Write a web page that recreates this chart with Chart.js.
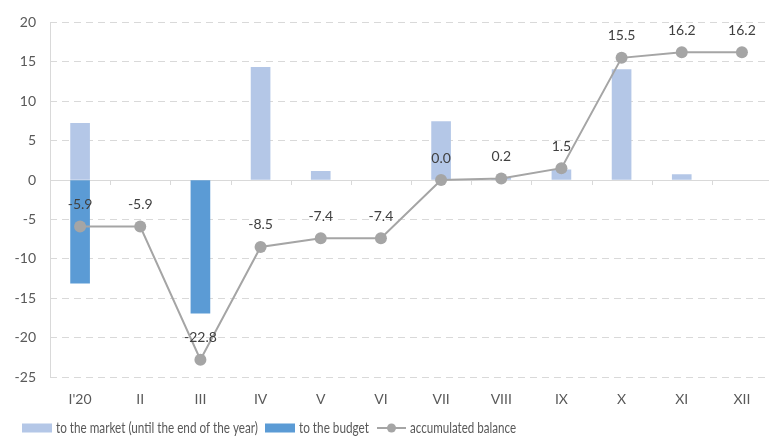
<!DOCTYPE html>
<html><head><meta charset="utf-8">
<script src="https://cdn.jsdelivr.net/npm/chart.js@4/dist/chart.umd.min.js"></script>
<style>
html,body{margin:0;padding:0;overflow:hidden;background:#fff;width:769px;height:436px}
#wrap{position:absolute;left:0;top:0;width:778px;height:436px}
</style></head>
<body><div id="wrap"><canvas id="c"></canvas></div>
<script>
const categories = ["I'20","II","III","IV","V","VI","VII","VIII","IX","X","XI","XII"];
const toMarket = [7.2, null, null, 14.3, 1.1, null, 7.4, 0.2, 1.3, 14.0, 0.7, null];
const toBudget = [-13.1, null, -16.9, null, null, null, null, null, null, null, null, null];
const accumulated = [-5.9, -5.9, -22.8, -8.5, -7.4, -7.4, 0.0, 0.2, 1.5, 15.5, 16.2, 16.2];
const yMin = -25, yMax = 20, yStep = 5;
const seriesNames = ["to the market (until the end of the year)", "to the budget", "accumulated balance"];

const FONT = "Lato, 'Open Sans', sans-serif";
const colMarket = '#B4C7E7', colBudget = '#5B9BD5', colLine = '#A5A5A5', grid = '#D9D9D9';

const extras = {
  id: 'extras',
  beforeDatasetsDraw(chart) {
    const {ctx, chartArea: a, scales: {x, y}} = chart;
    const y0 = y.getPixelForValue(0);
    ctx.save();
    ctx.strokeStyle = grid; ctx.lineWidth = 1;
    ctx.beginPath();
    ctx.moveTo(a.left, Math.round(y0) + 0.5); ctx.lineTo(a.right, Math.round(y0) + 0.5);
    ctx.moveTo(Math.round(a.left) + 0.5, a.top); ctx.lineTo(Math.round(a.left) + 0.5, a.bottom);
    const w = (a.right - a.left) / categories.length;
    for (let i = 1; i < categories.length; i++) {
      const px = Math.round(a.left + i * w) + 0.5;
      ctx.moveTo(px, y0); ctx.lineTo(px, y0 + 5);
    }
    ctx.stroke();
    ctx.restore();
  },
  afterDatasetsDraw(chart) {
    const {ctx} = chart;
    const meta = chart.getDatasetMeta(2);
    ctx.save();
    ctx.font = "14px " + FONT;
    ctx.fillStyle = '#404040';
    ctx.textAlign = 'center'; ctx.textBaseline = 'middle';
    meta.data.forEach((pt, i) => {
      ctx.fillText(accumulated[i].toFixed(1), pt.x, pt.y - 22);
    });
    // legend
    const ly = 428;
    ctx.font = "15px " + FONT;
    ctx.textAlign = 'left';
    ctx.fillStyle = colMarket; ctx.fillRect(22, ly - 4.5, 30, 9);
    ctx.fillStyle = '#595959'; ctx.fillText(seriesNames[0], 56, ly, 202);
    ctx.fillStyle = colBudget; ctx.fillRect(265, ly - 4.5, 30, 9);
    ctx.fillStyle = '#595959'; ctx.fillText(seriesNames[1], 299, ly, 70);
    ctx.strokeStyle = colLine; ctx.lineWidth = 2;
    ctx.beginPath(); ctx.moveTo(377, ly); ctx.lineTo(406, ly); ctx.stroke();
    ctx.fillStyle = colLine; ctx.beginPath(); ctx.arc(391.5, ly, 4.5, 0, Math.PI * 2); ctx.fill();
    ctx.fillStyle = '#595959'; ctx.fillText(seriesNames[2], 410, ly, 106);
    ctx.restore();
  }
};

new Chart(document.getElementById('c'), {
  data: {
    labels: categories,
    datasets: [
      {type: 'bar', label: seriesNames[0], data: toMarket, backgroundColor: colMarket, stack: 'bars', order: 2, barThickness: 19},
      {type: 'bar', label: seriesNames[1], data: toBudget, backgroundColor: colBudget, stack: 'bars', order: 2, barThickness: 19},
      {type: 'line', label: seriesNames[2], data: accumulated, borderColor: colLine, backgroundColor: colLine,
       borderWidth: 2, pointRadius: 6, pointBorderWidth: 0, pointBackgroundColor: colLine, tension: 0, stack: 'line', order: 0}
    ]
  },
  options: {
    responsive: true, maintainAspectRatio: false, animation: false,
    layout: {padding: {top: 18, left: 0, right: 0, bottom: 0}},
    plugins: {legend: {display: false}, tooltip: {enabled: false}},
    scales: {
      x: {
        stacked: true,
        grid: {display: false}, border: {display: false},
        ticks: {color: '#595959', font: {family: FONT, size: 14}, padding: 6, maxRotation: 0, autoSkip: false},
        afterFit(s) { s.height = 59; }
      },
      y: {
        stacked: true, min: yMin, max: yMax,
        grid: {color: c => (c.tick && c.tick.value === 0) ? 'rgba(0,0,0,0)' : grid, lineWidth: 1, drawTicks: false},
        border: {display: false, dash: [7, 5]},
        ticks: {stepSize: yStep, color: '#595959', font: {family: FONT, size: 14}, padding: 14},
        afterFit(s) { s.width = 50; }
      }
    }
  },
  plugins: [extras]
});
</script>
</body></html>
